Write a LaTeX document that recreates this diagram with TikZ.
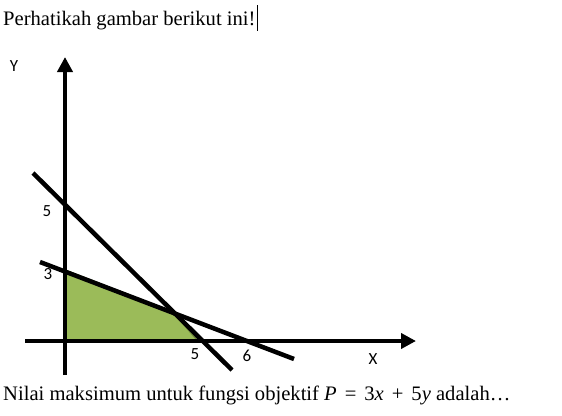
\documentclass[tikz,border=0pt]{standalone}
\usepackage{fontspec}
\setmainfont{Liberation Serif}
\newfontfamily\lblfont{Carlito}
\usetikzlibrary{arrows.meta}
\definecolor{regfill}{HTML}{9BBB59}
\definecolor{regedge}{HTML}{71893F}
\newcommand{\mgap}{\hspace{8pt}}
\tikzset{
  axis/.style={line width=4.5pt, -{Triangle[length=15pt,width=15pt]}},
  bound/.style={line width=4.5pt},
  lbl/.style={font=\lblfont\fontsize{17}{20}\selectfont, inner sep=0pt},
  txt/.style={font=\fontsize{20.6}{24}\selectfont, inner sep=0pt, anchor=base west}
}
\begin{document}
\begin{tikzpicture}[x=1pt,y=-1pt]
\useasboundingbox (0,0) rectangle (562,415);
% text
\node[txt] (title) at (3,25) {Perhatikah gambar berikut ini!};
\draw[line width=0.8pt] ([xshift=2pt]title.east |- 0,5) coordinate (c1) -- ([xshift=2pt]title.east |- 0,31) coordinate (c2);
\node[txt] (question) at (3,400) {Nilai maksimum untuk fungsi objektif \textit{P}\mgap=\mgap3\textit{x}\mgap+\mgap5\textit{y} adalah…};
% points
\coordinate (O) at (65,341);
\coordinate (ybot) at (65,375);
\coordinate (ytop) at (65,57);
\coordinate (xleft) at (25,341);
\coordinate (xright) at (416,341);
\coordinate (A1) at (33,173);
\coordinate (A2) at (232,370);
\coordinate (B1) at (40,262);
\coordinate (B2) at (294,359);
\coordinate (P3) at (65,270);
\coordinate (P5x) at (198,341);
\coordinate (Q) at (173,312);
% region
\fill[regfill, draw=regedge, line width=1.5pt, line join=round] (P3) -- (O) -- (P5x) -- (Q) -- cycle;
% axes
\draw[axis] (ybot) -- (ytop);
\draw[axis] (xleft) -- (xright);
% boundary lines
\draw[bound] (A1) -- (A2);
\draw[bound] (B1) -- (B2);
% labels
\node[lbl] (ylab) at (14,66) {Y};
\node[lbl] (xlab) at (373,359) {X};
\node[lbl] (l5y) at (47,211) {5};
\node[lbl] (l3y) at (48,274) {3};
\node[lbl] (l5x) at (195,354) {5};
\node[lbl] (l6x) at (247,356) {6};
\end{tikzpicture}
\end{document}
